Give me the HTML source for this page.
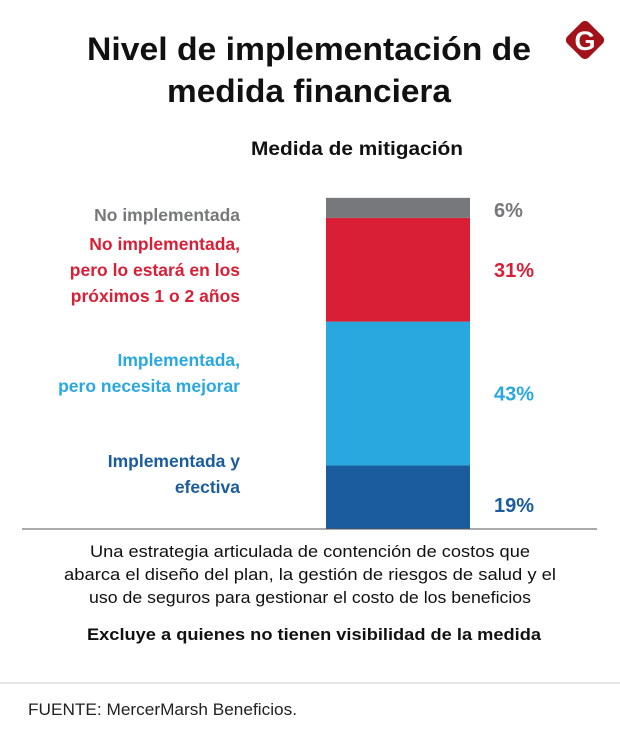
<!DOCTYPE html>
<html><head><meta charset="utf-8"><style>
body{margin:0;background:#fff;}
svg{display:block;font-family:"Liberation Sans",sans-serif;}
</style></head><body>
<svg id="chart" width="620" height="740" viewBox="0 0 620 740">
<rect width="620" height="740" fill="#fff"/>
<text x="309" y="60" text-anchor="middle" font-size="32" font-weight="bold" fill="#111" textLength="444" lengthAdjust="spacingAndGlyphs">Nivel de implementación de</text>
<text x="309" y="102" text-anchor="middle" font-size="32" font-weight="bold" fill="#111" textLength="284" lengthAdjust="spacingAndGlyphs">medida financiera</text>
<g>
<rect x="570" y="25" width="30" height="30" rx="5" fill="#a3111b" transform="rotate(45 585 40)"/>
<text x="585" y="50" text-anchor="middle" font-size="27" font-weight="bold" fill="#fff">G</text>
</g>
<text x="357" y="155" text-anchor="middle" font-size="19" font-weight="bold" fill="#111" textLength="212" lengthAdjust="spacingAndGlyphs">Medida de mitigación</text>
<g id="bars"></g>
<line x1="22" y1="529" x2="597" y2="529" stroke="#555" stroke-width="1"/>
<g font-size="16.5" fill="#111" text-anchor="middle">
<text x="310" y="557" textLength="440" lengthAdjust="spacingAndGlyphs">Una estrategia articulada de contención de costos que</text>
<text x="310" y="580" textLength="492" lengthAdjust="spacingAndGlyphs">abarca el diseño del plan, la gestión de riesgos de salud y el</text>
<text x="310" y="603" textLength="442" lengthAdjust="spacingAndGlyphs">uso de seguros para gestionar el costo de los beneficios</text>
</g>
<text x="314" y="640" text-anchor="middle" font-size="17" font-weight="bold" fill="#111" textLength="454" lengthAdjust="spacingAndGlyphs">Excluye a quienes no tienen visibilidad de la medida</text>
<line x1="0" y1="683" x2="620" y2="683" stroke="#ccc" stroke-width="1"/>
<text x="28" y="715" font-size="17" fill="#222" textLength="269" lengthAdjust="spacingAndGlyphs">FUENTE: MercerMarsh Beneficios.</text>
</svg>
<script>
const categories=["Implementada y efectiva","Implementada, pero necesita mejorar","No implementada, pero lo estará en los próximos 1 o 2 años","No implementada"];
const values=[19,43,31,6];
const valueLabels=["19%","43%","31%","6%"];
const colors=["#1a5c9e","#29a8e0","#d91f36","#77787b"];
const labelLines=[["Implementada y","efectiva"],["Implementada,","pero necesita mejorar"],["No implementada,","pero lo estará en los","próximos 1 o 2 años"],["No implementada"]];
const NS="http://www.w3.org/2000/svg";
const g=document.getElementById("bars");
const base=529,pxPer=3.345,bx=326,bw=144;
function y(v){return base-v*pxPer;}
const labelOffsets=[-30,-27.5,-20,13];
let cum=0;
values.forEach((v,i)=>{
  const y0=y(cum),y1=y(cum+v);cum+=v;
  const r=document.createElementNS(NS,"rect");
  r.setAttribute("x",bx);r.setAttribute("y",y1);r.setAttribute("width",bw);r.setAttribute("height",y0-y1);
  r.setAttribute("fill",colors[i]);
  
  
  g.appendChild(r);
  const mid=(y0+y1)/2;
  const vt=document.createElementNS(NS,"text");
  const vy=i===0?mid+15:(i===3?mid+9:mid+7);
  vt.setAttribute("x",494);vt.setAttribute("y",vy);
  vt.setAttribute("font-size","20");vt.setAttribute("font-weight","bold");vt.setAttribute("fill",colors[i]);
  vt.textContent=valueLabels[i];
  
  
  g.appendChild(vt);
  const lines=labelLines[i];
  const lh=26;
  const ly=mid+labelOffsets[i];
  lines.forEach((ln,k)=>{
    const t=document.createElementNS(NS,"text");
    t.setAttribute("x",240);t.setAttribute("y",ly+k*lh);
    t.setAttribute("text-anchor","end");t.setAttribute("font-size","17.5");t.setAttribute("font-weight","bold");
    t.setAttribute("fill",colors[i]);
    t.textContent=ln;
    
    
    g.appendChild(t);
  });
});
</script>
</body></html>
